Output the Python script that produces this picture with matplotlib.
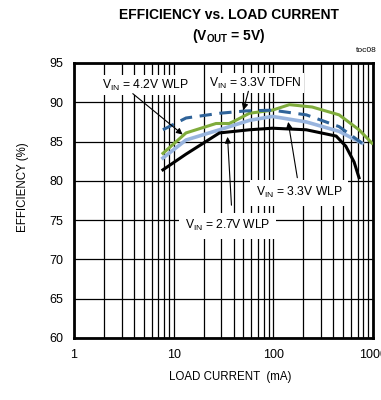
import matplotlib
matplotlib.use("Agg")
import matplotlib.pyplot as plt
from matplotlib.ticker import LogLocator, NullFormatter, FixedLocator, FixedFormatter

plt.rcParams['font.family'] = ['Liberation Sans', 'DejaVu Sans']

# Data (load current mA, efficiency %)
i_27 = [7.8, 13.3, 28.8, 57.5, 97.7, 214, 427, 534, 646, 724]
e_27 = [81.4, 83.4, 86.1, 86.5, 86.7, 86.5, 85.7, 84.4, 82.4, 80.4]

i_33w = [7.8, 13.3, 28.8, 57.5, 97.7, 214, 457, 776]
e_33w = [82.9, 85.2, 86.5, 87.7, 88.2, 87.5, 86.3, 84.8]

i_33t = [7.8, 13.3, 26.6, 36, 42, 57.5, 98, 145, 245, 457, 724, 977]
e_33t = [83.5, 86.1, 87.3, 87.3, 87.7, 88.6, 89.0, 89.7, 89.4, 88.4, 86.5, 84.8]

i_42 = [7.8, 13.3, 28.8, 53, 98, 214, 457, 776]
e_42 = [86.5, 88.0, 88.6, 88.9, 89.0, 88.4, 86.9, 84.8]

x_ticks = [1, 10, 100, 1000]
x_ticklabels = ['1', '10', '100', '1000']
y_ticks = [60, 65, 70, 75, 80, 85, 90, 95]

fig = plt.figure(figsize=(3.81, 4.0), dpi=100)
ax = fig.add_axes([74/381, 1-338/400, (373-74)/381, (338-63)/400])

ax.set_xscale('log')
ax.set_xlim(1, 1000)
ax.set_ylim(60, 95)

ax.plot(i_27, e_27, color='black', lw=2.2, zorder=5)
ax.plot(i_33w, e_33w, color='#98b4de', lw=2.6, zorder=4)
ax.plot(i_33t, e_33t, color='#80ac3c', lw=2.2, zorder=4)
ax.plot(i_42, e_42, color='#2f6399', lw=2.2, ls=(0, (4, 2.5)), zorder=6)

ax.xaxis.set_major_locator(FixedLocator(x_ticks))
ax.xaxis.set_major_formatter(FixedFormatter(x_ticklabels))
ax.xaxis.set_minor_locator(LogLocator(base=10, subs=range(2, 10)))
ax.xaxis.set_minor_formatter(NullFormatter())
ax.set_yticks(y_ticks)
ax.grid(True, which='both', axis='x', color='black', lw=0.9)
ax.grid(True, which='major', axis='y', color='black', lw=0.9)
ax.tick_params(which='both', length=0, labelsize=9, pad=8)
for s in ax.spines.values():
    s.set_linewidth(2)

ax.set_xlabel('LOAD CURRENT  (mA)', fontsize=8.3)
ax.xaxis.set_label_coords((230-74)/(373-74), -(377-338)/(338-63))
ax.xaxis.label.set_va('center')
ax.set_ylabel('EFFICIENCY (%)', fontsize=8.3)
ax.yaxis.set_label_coords(-(74-23)/(373-74), (338-187)/(338-63))
ax.yaxis.label.set_va('center')

tfs = 8.7
pad_small = dict(boxstyle='square,pad=0.2', fc='white', ec='none')
pad_big = dict(boxstyle='square,pad=0.45', fc='white', ec='none')
ax.text(5.25, 92.2, r'V$_{\mathregular{IN}}$ = 4.2V WLP', fontsize=tfs, ha='center', va='center',
        bbox=pad_small, zorder=3)
ax.text(66, 92.4, r'V$_{\mathregular{IN}}$ = 3.3V TDFN', fontsize=tfs, ha='center', va='center',
        bbox=pad_small, zorder=3)
ax.text(182, 78.5, r'V$_{\mathregular{IN}}$ = 3.3V WLP', fontsize=tfs, ha='center', va='center',
        bbox=pad_big, zorder=3)
ax.text(34.7, 74.3, r'V$_{\mathregular{IN}}$ = 2.7V WLP', fontsize=tfs, ha='center', va='center',
        bbox=pad_big, zorder=3)

arrow = dict(arrowstyle='-|>', color='black', lw=0.8, mutation_scale=9, shrinkA=0, shrinkB=0)
ax.annotate('', xy=(12.3, 85.9), xytext=(3.89, 91.1), arrowprops=arrow, zorder=7)
ax.annotate('', xy=(50.1, 89.0), xytext=(56.2, 91.4), arrowprops=arrow, zorder=7)
ax.annotate('', xy=(141, 87.5), xytext=(174, 80.4), arrowprops=arrow, zorder=7)
ax.annotate('', xy=(34.7, 85.6), xytext=(38, 76.9), arrowprops=arrow, zorder=7)

fig.text(229/381, 1-15/400, 'EFFICIENCY vs. LOAD CURRENT', ha='center', va='center',
         fontsize=10, fontweight='bold')
fig.text(229/381, 1-36/400, r'(V$_{\mathregular{OUT}}$ = 5V)', ha='center', va='center',
         fontsize=10, fontweight='bold')
fig.text(377/381, 1-50/400, 'toc08', ha='right', va='center', fontsize=6)

fig.savefig('out.png', dpi=100)
